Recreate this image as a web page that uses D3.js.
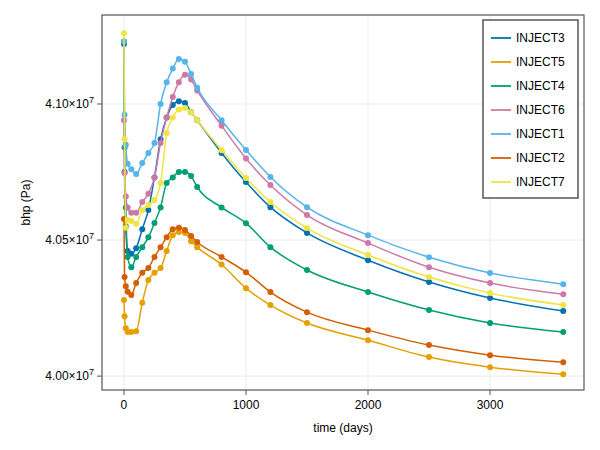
<!DOCTYPE html>
<html><head><meta charset="utf-8">
<script src="https://cdn.jsdelivr.net/npm/d3@7"></script>
<style>body{margin:0;background:#fff}text{font-family:"Liberation Sans",Arial,sans-serif}</style>
</head><body><svg id="c" width="600" height="450"></svg>
<script>
// time in days; bhp in units of 1e7 Pa
const times = [0, 5, 15, 30, 60, 100, 150, 200, 250, 300, 350, 400, 450, 500, 550, 600, 800, 1000, 1200, 1500, 2000, 2500, 3000, 3600];
const names = ["INJECT3", "INJECT5", "INJECT4", "INJECT6", "INJECT1", "INJECT2", "INJECT7"];
const colors = ["#0072B2", "#E69F00", "#009E73", "#CC79A7", "#56B4E9", "#D55E00", "#F0E442"];
const inject3 = [4.122, 4.075, 4.055, 4.046, 4.045, 4.047, 4.054, 4.061, 4.073, 4.087, 4.095, 4.0996, 4.101, 4.1004, 4.097, 4.094, 4.082, 4.0713, 4.0621, 4.0526, 4.0426, 4.0346, 4.0287, 4.0239];
const inject5 = [4.028, 4.022, 4.0176, 4.0162, 4.0162, 4.0165, 4.027, 4.0353, 4.038, 4.0397, 4.046, 4.0518, 4.053, 4.0526, 4.0496, 4.0474, 4.041, 4.0323, 4.0261, 4.0195, 4.0132, 4.007, 4.0033, 4.0007];
const inject4 = [4.123, 4.084, 4.062, 4.0438, 4.040, 4.0438, 4.0474, 4.051, 4.0563, 4.062, 4.071, 4.073, 4.075, 4.075, 4.0735, 4.0695, 4.062, 4.0562, 4.0474, 4.039, 4.0309, 4.0243, 4.0195, 4.0162];
const inject6 = [4.094, 4.0746, 4.066, 4.062, 4.060, 4.060, 4.064, 4.067, 4.073, 4.0857, 4.095, 4.1026, 4.108, 4.1107, 4.109, 4.105, 4.092, 4.080, 4.0702, 4.0592, 4.0489, 4.040, 4.0342, 4.0301];
const inject1 = [4.123, 4.096, 4.085, 4.078, 4.076, 4.0743, 4.0783, 4.082, 4.0857, 4.100, 4.108, 4.113, 4.1165, 4.1155, 4.111, 4.106, 4.094, 4.0831, 4.0732, 4.0621, 4.0518, 4.0437, 4.0379, 4.0338];
const inject2 = [4.0577, 4.0364, 4.033, 4.031, 4.0298, 4.0342, 4.038, 4.0397, 4.0438, 4.0474, 4.051, 4.054, 4.0545, 4.0537, 4.0515, 4.0493, 4.0438, 4.0382, 4.0309, 4.0235, 4.0169, 4.0114, 4.0077, 4.0051];
const inject7 = [4.126, 4.087, 4.0545, 4.0574, 4.057, 4.056, 4.061, 4.0629, 4.0647, 4.071, 4.0893, 4.095, 4.098, 4.0985, 4.097, 4.094, 4.083, 4.0728, 4.064, 4.0544, 4.0445, 4.0364, 4.0305, 4.0261];
const series = [inject3, inject5, inject4, inject6, inject1, inject2, inject7];
const xTicks = [0, 1000, 2000, 3000];
const yTicks = [4.00, 4.05, 4.10];

const svg = d3.select("#c");
const L = 102, R = 584, T = 15, B = 390;
const x = d3.scaleLinear().domain([-180, 3770]).range([L, R]);
const y = d3.scaleLinear().domain([3.9949, 4.1327]).range([B, T]);

// grid
svg.append("g").selectAll("line").data(xTicks).join("line")
  .attr("x1", d => x(d)).attr("x2", d => x(d)).attr("y1", T).attr("y2", B)
  .attr("stroke", "#ebebeb");
svg.append("g").selectAll("line").data(yTicks).join("line")
  .attr("y1", d => y(d)).attr("y2", d => y(d)).attr("x1", L).attr("x2", R)
  .attr("stroke", "#ebebeb");

// series
const line = d3.line().x((d, i) => x(times[i])).y(d => y(d)).curve(d3.curveMonotoneX);
series.forEach((s, k) => {
  svg.append("path").datum(s).attr("d", line).attr("fill", "none")
    .attr("stroke", colors[k]).attr("stroke-width", 1.5);
  svg.append("g").selectAll("circle").data(s).join("circle")
    .attr("cx", (d, i) => x(times[i])).attr("cy", d => y(d)).attr("r", 3)
    .attr("fill", colors[k]);
});

// frame
svg.append("rect").attr("x", L).attr("y", T).attr("width", R - L).attr("height", B - T)
  .attr("fill", "none").attr("stroke", "#555").attr("stroke-width", 1.2);

// axes ticks
svg.append("g").selectAll("line").data(xTicks).join("line")
  .attr("x1", d => x(d)).attr("x2", d => x(d)).attr("y1", B).attr("y2", B + 5).attr("stroke", "#555");
svg.append("g").selectAll("text").data(xTicks).join("text")
  .attr("x", d => x(d)).attr("y", B + 19).attr("text-anchor", "middle")
  .attr("font-size", 12).text(d => d);
svg.append("g").selectAll("line").data(yTicks).join("line")
  .attr("x1", L - 5).attr("x2", L).attr("y1", d => y(d)).attr("y2", d => y(d)).attr("stroke", "#555");
const yt = svg.append("g").selectAll("text").data(yTicks).join("text")
  .attr("x", L - 8).attr("y", d => y(d) + 4).attr("text-anchor", "end").attr("font-size", 12);
yt.append("tspan").text(d => d.toFixed(2) + "×10");
yt.append("tspan").attr("dy", -5).attr("font-size", 9).text("7");

svg.append("text").attr("x", (L + R) / 2).attr("y", 432).attr("text-anchor", "middle")
  .attr("font-size", 12).text("time (days)");
svg.append("text").attr("transform", `translate(30,${(T + B) / 2}) rotate(-90)`)
  .attr("text-anchor", "middle").attr("font-size", 12).text("bhp (Pa)");

// legend
const lg = svg.append("g").attr("transform", "translate(483,20)");
lg.append("rect").attr("width", 95).attr("height", 178).attr("fill", "#fff")
  .attr("stroke", "#555").attr("stroke-width", 1.5);
names.forEach((n, k) => {
  const yy = 18 + k * 24;
  lg.append("line").attr("x1", 8).attr("x2", 28).attr("y1", yy).attr("y2", yy)
    .attr("stroke", colors[k]).attr("stroke-width", 1.8);
  lg.append("text").attr("x", 33).attr("y", yy + 4).attr("font-size", 12).text(n);
});
</script></body></html>
